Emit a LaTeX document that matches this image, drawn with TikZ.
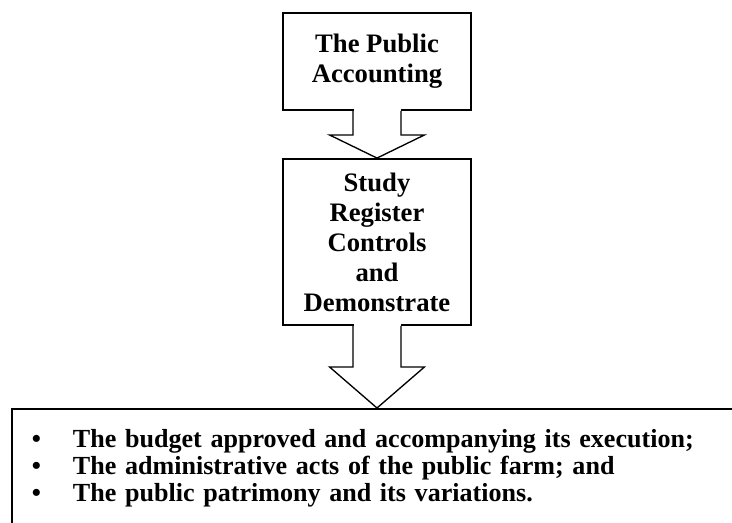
\documentclass[tikz,border=0pt]{standalone}
\usepackage{fontspec}
\setmainfont{Liberation Serif}
\usetikzlibrary{calc}

% Hollow block arrow: #1 = start anchor (on a box bottom), #2 = tip, #3 = shaft length
\newcommand{\blkarrow}[3]{%
  \fill[white] ($(#1)+(-23.5,-2)$) rectangle ($(#1)+(23.5,2)$);
  \draw[arrowline] ($(#1)+(-24,0)$) -- ($(#1)+(-24,#3)$) -- ($(#1)+(-47.5,#3)$)
    -- (#2) -- ($(#1)+(47.5,#3)$) -- ($(#1)+(24,#3)$) -- ($(#1)+(24,0)$);
}

\begin{document}
\begin{tikzpicture}[
  x=0.75pt, y=-0.75pt,
  box/.style={draw, line width=1.4pt, align=center, inner sep=0pt,
    font=\bfseries\fontsize{20}{22.5}\selectfont},
  listbox/.style={draw, line width=1.4pt, anchor=north west,
    inner xsep=15pt, inner ysep=15pt, text width=540pt, align=left,
    font=\bfseries\fontsize{19.55}{20.6}\selectfont},
  arrowline/.style={line width=1pt, line join=miter}
]
\useasboundingbox (0,0) rectangle (732,522);
\clip (0,0) rectangle (732,522);

\node[box, minimum width=141pt, minimum height=72.75pt] (acct) at (377,61.5)
  {The Public\\Accounting};
\node[box, minimum width=141pt, minimum height=124.5pt] (study) at (377,242)
  {Study\\Register\\Controls\\and\\Demonstrate};
\node[listbox] (list) at (11,408)
  {\makebox[30.75pt][l]{\textbullet}The budget approved and accompanying its execution;\\
   \makebox[30.75pt][l]{\textbullet}The administrative acts of the public farm; and\\
   \makebox[30.75pt][l]{\textbullet}The public patrimony and its variations.};

\blkarrow{acct.south}{study.north}{24}
\blkarrow{study.south}{study.south |- list.north}{41}
\end{tikzpicture}
\end{document}
